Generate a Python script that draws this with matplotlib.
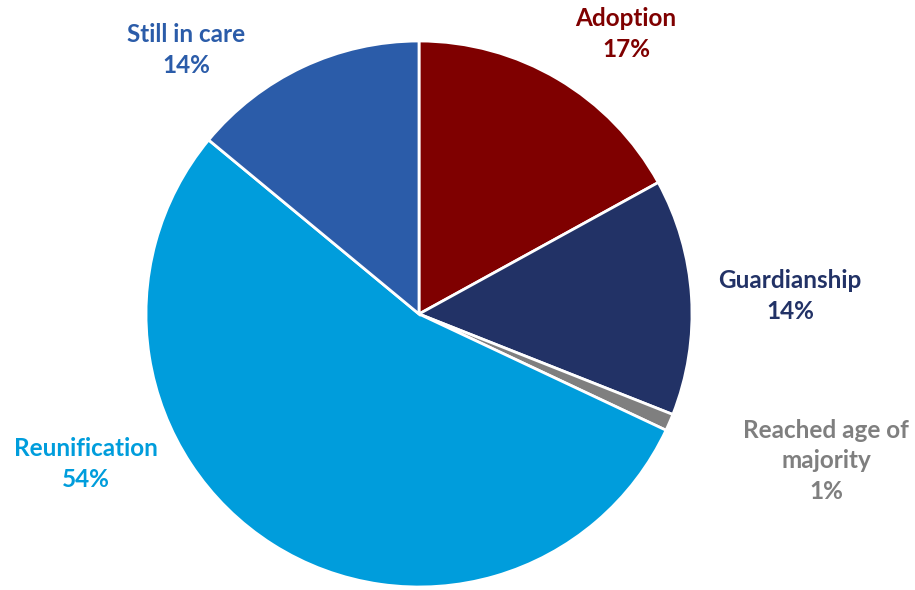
import matplotlib
matplotlib.use("Agg")
import matplotlib.pyplot as plt

categories = ["Adoption", "Guardianship", "Reached age of\nmajority", "Reunification", "Still in care"]
shares = [17, 14, 1, 54, 14]
colors = ["#7F0000", "#223266", "#7F7F7F", "#009DDC", "#2B5CA9"]

# label anchor points (figure pixel space, y measured from top)
label_pos = [(626, 34), (790, 296), (826, 461), (86, 464), (186, 50)]

W, H = 915, 590
fig = plt.figure(figsize=(W / 100, H / 100), dpi=100)
ax = fig.add_axes([0, 0, 1, 1])

ax.pie(shares, colors=colors, startangle=90, counterclock=False,
       radius=273, center=(419, H - 314),
       wedgeprops=dict(edgecolor="white", linewidth=2))

ax.set_xlim(0, W)
ax.set_ylim(0, H)
ax.set_aspect("equal")
ax.axis("off")

for name, val, col, (x, y) in zip(categories, shares, colors, label_pos):
    ax.text(x, H - y, f"{name}\n{val}%", color=col, ha="center", va="center",
            fontsize=17.5, fontweight="bold", family=["Lato", "DejaVu Sans"],
            linespacing=1.42)

fig.savefig("out.png", dpi=100)
